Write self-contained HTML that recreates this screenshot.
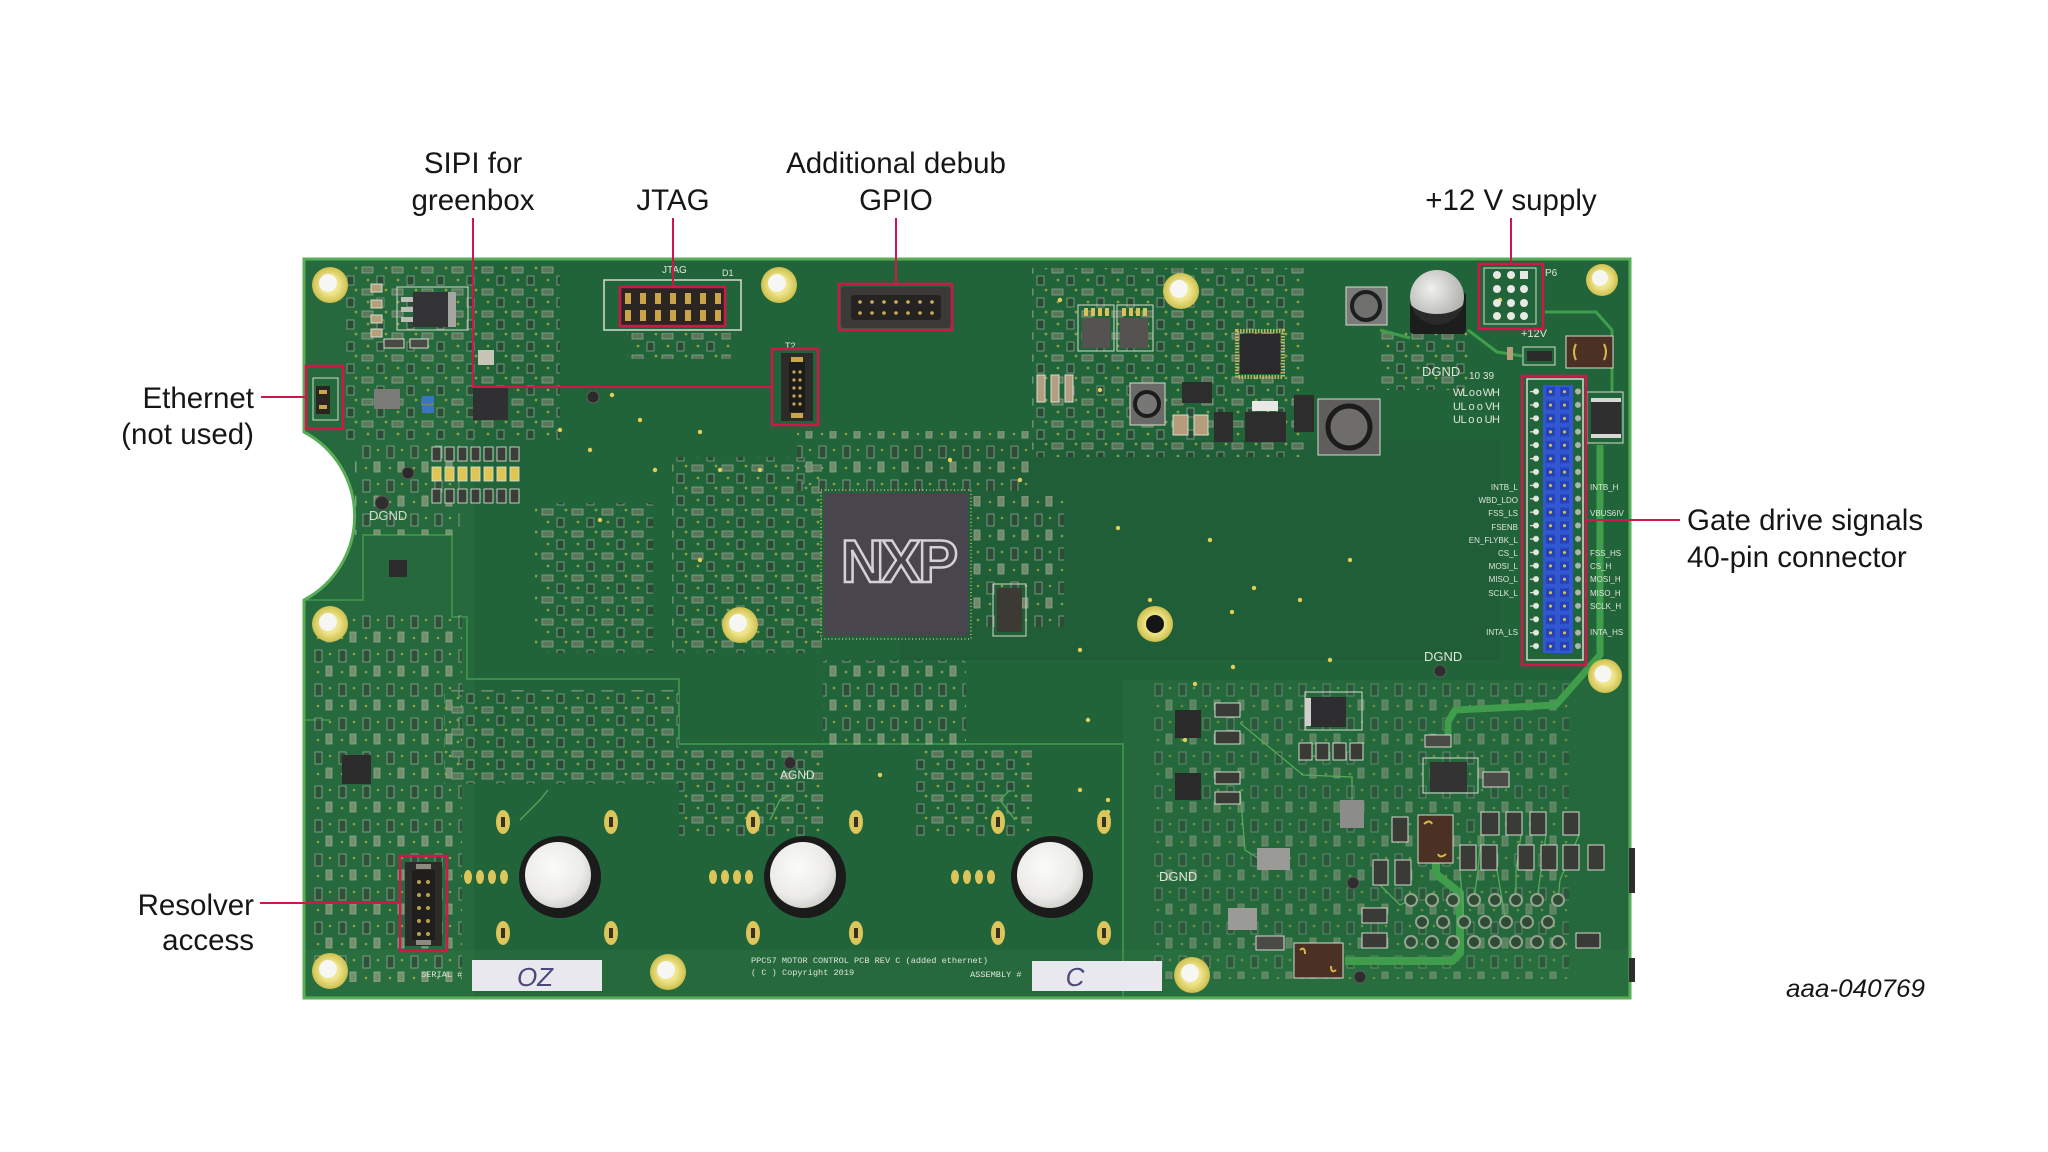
<!DOCTYPE html>
<html>
<head>
<meta charset="utf-8">
<style>
html,body{margin:0;padding:0;background:#ffffff;}
svg{display:block;}
</style>
</head>
<body>
<svg width="2048" height="1152" viewBox="0 0 2048 1152" xmlns="http://www.w3.org/2000/svg">
<defs>
  <pattern id="p1" width="30" height="22" patternUnits="userSpaceOnUse">
    <rect x="2" y="3" width="11" height="6" fill="#8d8576" stroke="#d9ded2" stroke-width="0.8"/>
    <rect x="17" y="12" width="7" height="9" fill="#303531" stroke="#d9ded2" stroke-width="0.8"/>
    <circle cx="26" cy="4" r="1.4" fill="#e3cd5c"/>
    <circle cx="8" cy="16" r="1.4" fill="#e3cd5c"/>
  </pattern>
  <pattern id="p2" width="24" height="34" patternUnits="userSpaceOnUse">
    <rect x="3" y="4" width="7" height="12" fill="#3a3d38" stroke="#dfe3d8" stroke-width="0.8"/>
    <rect x="14" y="20" width="6" height="10" fill="#b9ad92" stroke="#dfe3d8" stroke-width="0.8"/>
    <circle cx="18" cy="8" r="1.3" fill="#e3cd5c"/>
    <circle cx="6" cy="26" r="1.3" fill="#e3cd5c"/>
  </pattern>
  <pattern id="conn" x="1527" y="385" width="56" height="13.4" patternUnits="userSpaceOnUse">
    <rect x="16" y="0" width="30" height="13.4" fill="#3157d2"/>
    <circle cx="9" cy="6.5" r="3" fill="#e4e6e0"/>
    <rect x="3" y="6" width="6" height="1.2" fill="#e4e6e0"/>
    <rect x="19" y="2.2" width="9" height="9" fill="#2543b6"/>
    <circle cx="23.5" cy="6.7" r="1.5" fill="#e0c552"/>
    <rect x="33" y="2.2" width="9" height="9" fill="#2543b6"/>
    <circle cx="37.5" cy="6.7" r="1.5" fill="#e0c552"/>
    <circle cx="51" cy="6.5" r="3" fill="#aeb4ac"/>
  </pattern>
  <radialGradient id="gold" cx="0.5" cy="0.5" r="0.5">
    <stop offset="0.5" stop-color="#efe58c"/>
    <stop offset="1" stop-color="#cdbf4e"/>
  </radialGradient>
  <radialGradient id="wht" cx="0.42" cy="0.38" r="0.65">
    <stop offset="0" stop-color="#fbfbfa"/>
    <stop offset="0.7" stop-color="#ecebe8"/>
    <stop offset="1" stop-color="#cfcfcb"/>
  </radialGradient>
  <radialGradient id="silver" cx="0.4" cy="0.35" r="0.7">
    <stop offset="0" stop-color="#f0f0ee"/>
    <stop offset="1" stop-color="#a9a9a6"/>
  </radialGradient>
  <clipPath id="bc">
    <path d="M304,259 H1630 V998 H304 V600 A95,95 0 0 0 304,432 Z"/>
  </clipPath>
</defs>

<!-- BOARD -->
<path d="M304,259 H1630 V998 H304 V600 A95,95 0 0 0 304,432 Z" fill="#22643a"/>
<g clip-path="url(#bc)">
  <rect x="304" y="259" width="170" height="739" fill="#3f9150" opacity="0.12"/>
  <rect x="1123" y="680" width="507" height="318" fill="#3f9150" opacity="0.10"/>
  <rect x="304" y="950" width="1326" height="48" fill="#3f9150" opacity="0.12"/>
  <rect x="900" y="440" width="600" height="220" fill="#123d22" opacity="0.12"/>

  <polyline points="304,600 363,600 363,535 452,535 452,617 467,617 467,679 679,679 679,744 1123,744 1123,998" fill="none" stroke="#3b8d4a" stroke-width="2"/>
  <polyline points="304,720 330,720" fill="none" stroke="#3b8d4a" stroke-width="2"/>

  <g opacity="0.55">
    <rect x="345" y="265" width="215" height="175" fill="url(#p1)"/>
    <rect x="355" y="440" width="105" height="95" fill="url(#p2)"/>
    <rect x="312" y="612" width="150" height="370" fill="url(#p2)"/>
    <rect x="535" y="503" width="118" height="150" fill="url(#p1)"/>
    <rect x="672" y="457" width="150" height="196" fill="url(#p1)"/>
    <rect x="797" y="431" width="235" height="60" fill="url(#p2)"/>
    <rect x="973" y="496" width="91" height="131" fill="url(#p2)"/>
    <rect x="823" y="660" width="143" height="91" fill="url(#p2)"/>
    <rect x="444" y="690" width="235" height="94" fill="url(#p1)"/>
    <rect x="679" y="750" width="144" height="86" fill="url(#p1)"/>
    <rect x="914" y="750" width="118" height="86" fill="url(#p1)"/>
    <rect x="1032" y="268" width="274" height="189" fill="url(#p1)"/>
    <rect x="1149" y="679" width="420" height="300" fill="url(#p2)" opacity="0.7"/>
    <rect x="627" y="333" width="104" height="26" fill="url(#p1)"/>
    <rect x="1380" y="330" width="90" height="60" fill="url(#p1)"/>
  </g>

  <g fill="none" stroke="#3f9d4b" stroke-linejoin="round">
    <polyline stroke-width="7" points="1600,445 1600,655 1556,705 1455,710 1448,722 1448,738"/>
    <polyline stroke-width="8" points="1436,862 1436,874 1460,893 1460,953 1452,961 1345,961"/>
    <polyline stroke-width="3" points="1468,330 1497,352 1522,356"/>
    <polyline stroke-width="3" points="1545,312 1596,312 1612,330 1612,392"/>
    <polyline stroke-width="3" points="1380,330 1410,338"/>
  </g>
  <g fill="none" stroke="#5aa85a" stroke-width="1.3">
    <polyline points="1240,723 1303,775 1352,777 1352,800"/>
    <polyline points="1240,790 1245,850 1258,858"/>
    <polyline points="1380,885 1400,905 1411,900"/>
    <polyline points="1481,835 1478,870 1474,900"/>
    <polyline points="1521,835 1516,870 1516,900"/>
    <polyline points="1546,835 1541,870 1537,900"/>
    <polyline points="1579,835 1560,880 1558,900"/>
    <polyline points="1460,870 1464,922"/>
    <polyline points="1497,870 1506,922"/>
    <polyline points="520,820 540,800 548,790"/>
    <polyline points="770,820 780,800 790,795"/>
    <polyline points="1015,820 1000,800 1010,790"/>
  </g>
</g>
<path d="M304,259 H1630 V998 H304 V600 A95,95 0 0 0 304,432 Z" fill="none" stroke="#57ae57" stroke-width="3"/>

<rect x="1629" y="848" width="6" height="45" fill="#2e2e2e"/>
<rect x="1629" y="958" width="6" height="24" fill="#2e2e2e"/>

<g fill="#e4cd5a">
  <circle cx="612" cy="395" r="2.2"/><circle cx="640" cy="420" r="2.2"/><circle cx="700" cy="432" r="2.2"/>
  <circle cx="720" cy="470" r="2.2"/><circle cx="655" cy="470" r="2.2"/><circle cx="760" cy="470" r="2.2"/>
  <circle cx="600" cy="520" r="2.2"/><circle cx="1060" cy="300" r="2.2"/><circle cx="1100" cy="390" r="2.2"/>
  <circle cx="1232" cy="612" r="2.2"/><circle cx="1254" cy="588" r="2.2"/><circle cx="1185" cy="740" r="2.2"/>
  <circle cx="1150" cy="600" r="2.2"/><circle cx="1300" cy="600" r="2.2"/><circle cx="1330" cy="660" r="2.2"/>
  <circle cx="1020" cy="480" r="2.2"/><circle cx="950" cy="460" r="2.2"/><circle cx="1080" cy="650" r="2.2"/>
  <circle cx="1088" cy="720" r="2.2"/><circle cx="880" cy="775" r="2.2"/><circle cx="700" cy="560" r="2.2"/>
  <circle cx="1118" cy="528" r="2.2"/><circle cx="1210" cy="540" r="2.2"/><circle cx="1350" cy="560" r="2.2"/>
  <circle cx="1195" cy="684" r="2.2"/><circle cx="1233" cy="667" r="2.2"/><circle cx="1500" cy="300" r="2.2"/>
  <circle cx="560" cy="430" r="2.2"/><circle cx="590" cy="450" r="2.2"/><circle cx="1080" cy="790" r="2.2"/>
  <circle cx="1108" cy="800" r="2.2"/><circle cx="1108" cy="812" r="2.2"/>
</g>

<g>
  <circle cx="330" cy="285" r="18" fill="url(#gold)"/><circle cx="328" cy="283" r="9" fill="#f6f6f2"/>
  <circle cx="779" cy="285" r="18" fill="url(#gold)"/><circle cx="777" cy="283" r="9" fill="#f6f6f2"/>
  <circle cx="1181" cy="291" r="18" fill="url(#gold)"/><circle cx="1179" cy="289" r="9" fill="#f6f6f2"/>
  <circle cx="1602" cy="280" r="16" fill="url(#gold)"/><circle cx="1600" cy="278" r="8" fill="#f6f6f2"/>
  <circle cx="330" cy="624" r="18" fill="url(#gold)"/><circle cx="328" cy="622" r="9" fill="#f6f6f2"/>
  <circle cx="740" cy="625" r="18" fill="url(#gold)"/><circle cx="738" cy="623" r="9" fill="#f6f6f2"/>
  <circle cx="1605" cy="676" r="17" fill="url(#gold)"/><circle cx="1603" cy="674" r="8.5" fill="#f6f6f2"/>
  <circle cx="330" cy="971" r="18" fill="url(#gold)"/><circle cx="328" cy="969" r="9" fill="#f6f6f2"/>
  <circle cx="668" cy="972" r="18" fill="url(#gold)"/><circle cx="666" cy="970" r="9" fill="#f6f6f2"/>
  <circle cx="1192" cy="975" r="18" fill="url(#gold)"/><circle cx="1190" cy="973" r="9" fill="#f6f6f2"/>
  <circle cx="1155" cy="624" r="18" fill="url(#gold)"/><circle cx="1155" cy="624" r="9" fill="#151515"/>
</g>

<g stroke="#d5dccf" stroke-width="1">
  <rect x="397" y="287" width="71" height="43" fill="none"/>
  <rect x="371" y="284" width="11" height="8" fill="#b5a07a"/>
  <rect x="371" y="300" width="11" height="8" fill="#b5a07a"/>
  <rect x="371" y="315" width="11" height="8" fill="#b5a07a"/>
  <rect x="371" y="329" width="11" height="8" fill="#b5a07a"/>
  <rect x="384" y="339" width="20" height="9" fill="#4a4a44"/>
  <rect x="410" y="339" width="18" height="9" fill="#4a4a44"/>
  <rect x="313" y="378" width="25" height="42" fill="none"/>
</g>
<rect x="413" y="292" width="36" height="35" fill="#343436"/>
<rect x="448" y="292" width="8" height="35" fill="#a5a5a1"/>
<rect x="401" y="297" width="12" height="5" fill="#bdbdb8"/>
<rect x="401" y="307" width="12" height="5" fill="#bdbdb8"/>
<rect x="401" y="317" width="12" height="5" fill="#bdbdb8"/>
<rect x="374" y="389" width="26" height="20" fill="#7b7b78"/>
<rect x="422" y="396" width="12" height="7" fill="#3b74c0"/>
<rect x="422" y="406" width="12" height="7" fill="#3b74c0"/>
<rect x="473" y="388" width="35" height="32" fill="#303033"/>
<rect x="478" y="350" width="16" height="15" fill="#c9c4b8"/>
<circle cx="593" cy="397" r="6" fill="#2a2a2a" stroke="#5c5c58" stroke-width="1"/>
<circle cx="408" cy="473" r="6" fill="#2a2a2a" stroke="#5c5c58" stroke-width="1"/>
<circle cx="382" cy="503" r="7" fill="#2e2e2e" stroke="#5c5c58" stroke-width="1"/>
<rect x="316" y="386" width="14" height="28" fill="#2a2520"/>
<rect x="319" y="390" width="8" height="4" fill="#c9a84c"/>
<rect x="319" y="405" width="8" height="4" fill="#c9a84c"/>
<g stroke="#d5dccf" stroke-width="0.9">
  <rect x="432" y="447" width="9" height="14" fill="#3a3d38"/><rect x="445" y="447" width="9" height="14" fill="#3a3d38"/>
  <rect x="458" y="447" width="9" height="14" fill="#3a3d38"/><rect x="471" y="447" width="9" height="14" fill="#3a3d38"/>
  <rect x="484" y="447" width="9" height="14" fill="#3a3d38"/><rect x="497" y="447" width="9" height="14" fill="#3a3d38"/>
  <rect x="510" y="447" width="9" height="14" fill="#3a3d38"/>
  <rect x="432" y="467" width="9" height="14" fill="#e0c552"/><rect x="445" y="467" width="9" height="14" fill="#e0c552"/>
  <rect x="458" y="467" width="9" height="14" fill="#e0c552"/><rect x="471" y="467" width="9" height="14" fill="#e0c552"/>
  <rect x="484" y="467" width="9" height="14" fill="#e0c552"/><rect x="497" y="467" width="9" height="14" fill="#e0c552"/>
  <rect x="510" y="467" width="9" height="14" fill="#e0c552"/>
  <rect x="432" y="489" width="9" height="14" fill="#3a3d38"/><rect x="445" y="489" width="9" height="14" fill="#3a3d38"/>
  <rect x="458" y="489" width="9" height="14" fill="#3a3d38"/><rect x="471" y="489" width="9" height="14" fill="#3a3d38"/>
  <rect x="484" y="489" width="9" height="14" fill="#3a3d38"/><rect x="497" y="489" width="9" height="14" fill="#3a3d38"/>
  <rect x="510" y="489" width="9" height="14" fill="#3a3d38"/>
</g>
<text x="369" y="520" font-family="Liberation Sans, sans-serif" font-size="13" fill="#d6dccf">DGND</text>

<rect x="604" y="280" width="137" height="50" fill="none" stroke="#d5dccf" stroke-width="1.5"/>
<rect x="620" y="287" width="105" height="39" fill="#2b2622"/>
<g fill="#c9a548">
  <rect x="625" y="293" width="6" height="11"/><rect x="640" y="293" width="6" height="11"/><rect x="655" y="293" width="6" height="11"/>
  <rect x="670" y="293" width="6" height="11"/><rect x="685" y="293" width="6" height="11"/><rect x="700" y="293" width="6" height="11"/>
  <rect x="715" y="293" width="6" height="11"/>
  <rect x="625" y="310" width="6" height="11"/><rect x="640" y="310" width="6" height="11"/><rect x="655" y="310" width="6" height="11"/>
  <rect x="670" y="310" width="6" height="11"/><rect x="685" y="310" width="6" height="11"/><rect x="700" y="310" width="6" height="11"/>
  <rect x="715" y="310" width="6" height="11"/>
</g>
<text x="662" y="273" font-family="Liberation Sans, sans-serif" font-size="10" fill="#dfe5da">JTAG</text>
<text x="722" y="276" font-family="Liberation Sans, sans-serif" font-size="9" fill="#dfe5da">D1</text>

<rect x="841" y="287" width="110" height="41" rx="3" fill="#3c3a37"/>
<rect x="851" y="295" width="90" height="25" rx="3" fill="#252321"/>
<g fill="#d0b055">
  <circle cx="860" cy="302" r="1.8"/><circle cx="872" cy="302" r="1.8"/><circle cx="884" cy="302" r="1.8"/><circle cx="896" cy="302" r="1.8"/>
  <circle cx="908" cy="302" r="1.8"/><circle cx="920" cy="302" r="1.8"/><circle cx="932" cy="302" r="1.8"/>
  <circle cx="860" cy="313" r="1.8"/><circle cx="872" cy="313" r="1.8"/><circle cx="884" cy="313" r="1.8"/><circle cx="896" cy="313" r="1.8"/>
  <circle cx="908" cy="313" r="1.8"/><circle cx="920" cy="313" r="1.8"/><circle cx="932" cy="313" r="1.8"/>
</g>

<rect x="781" y="353" width="32" height="68" fill="#2c2b29"/>
<rect x="789" y="362" width="16" height="50" fill="#1b1b1a"/>
<rect x="791" y="357" width="12" height="5" fill="#c9a84c"/>
<rect x="791" y="413" width="12" height="5" fill="#c9a84c"/>
<g fill="#c9a84c">
  <circle cx="794" cy="372" r="1.6"/><circle cx="800" cy="372" r="1.6"/><circle cx="794" cy="380" r="1.6"/><circle cx="800" cy="380" r="1.6"/>
  <circle cx="794" cy="388" r="1.6"/><circle cx="800" cy="388" r="1.6"/><circle cx="794" cy="396" r="1.6"/><circle cx="800" cy="396" r="1.6"/>
  <circle cx="794" cy="404" r="1.6"/><circle cx="800" cy="404" r="1.6"/>
</g>

<rect x="821" y="490" width="150" height="149" fill="none" stroke="#a89e70" stroke-width="2" stroke-dasharray="1 2.5"/>
<rect x="824" y="493" width="144" height="143" fill="#49454d"/>
<text x="898" y="582" font-family="Liberation Sans, sans-serif" font-weight="bold" font-size="60" text-anchor="middle" letter-spacing="-3" fill="#49454d" stroke="#d4d2d6" stroke-width="2.5">NXP</text>
<rect x="993" y="584" width="33" height="52" fill="none" stroke="#d5dccf" stroke-width="1"/>
<rect x="997" y="588" width="25" height="44" rx="2" fill="#3d3a36"/>

<g stroke="#d5dccf" stroke-width="1">
  <rect x="1078" y="305" width="36" height="46" fill="none"/>
  <rect x="1117" y="305" width="36" height="46" fill="none"/>
  <rect x="1037" y="375" width="8" height="27" fill="#b39e82"/>
  <rect x="1051" y="375" width="8" height="27" fill="#b39e82"/>
  <rect x="1065" y="375" width="8" height="27" fill="#b39e82"/>
  <rect x="1173" y="415" width="15" height="20" fill="#b59c7a"/>
  <rect x="1194" y="415" width="14" height="20" fill="#b59c7a"/>
  <rect x="1484" y="268" width="52" height="56" fill="none"/>
  <rect x="1523" y="347" width="32" height="18" fill="none"/>
  <rect x="1566" y="336" width="47" height="32" fill="#4b3124"/>
  <rect x="1587" y="392" width="36" height="51" fill="none"/>
  <rect x="1318" y="399" width="62" height="56" fill="#5f5e5c"/>
  <rect x="1346" y="287" width="41" height="38" fill="#7a7a78"/>
  <rect x="1130" y="383" width="35" height="42" fill="#6a6a68"/>
</g>
<rect x="1082" y="318" width="28" height="30" fill="#55534f"/>
<rect x="1120" y="318" width="28" height="30" fill="#55534f"/>
<g fill="#d9c25a">
  <rect x="1084" y="308" width="4" height="8"/><rect x="1091" y="308" width="4" height="8"/><rect x="1098" y="308" width="4" height="8"/><rect x="1105" y="308" width="4" height="8"/>
  <rect x="1122" y="308" width="4" height="8"/><rect x="1129" y="308" width="4" height="8"/><rect x="1136" y="308" width="4" height="8"/><rect x="1143" y="308" width="4" height="8"/>
</g>
<rect x="1237" y="331" width="46" height="46" fill="none" stroke="#c9b160" stroke-width="4" stroke-dasharray="1.5 1.5"/>
<rect x="1240" y="334" width="40" height="40" fill="#2a2a2c"/>
<circle cx="1366" cy="306" r="14" fill="#6f6f6d" stroke="#1e1e1e" stroke-width="4"/>
<circle cx="1349" cy="427" r="21" fill="#6e6d6a" stroke="#1c1c1c" stroke-width="5"/>
<circle cx="1147" cy="404" r="12" fill="#777775" stroke="#1c1c1c" stroke-width="4"/>
<rect x="1182" y="382" width="30" height="21" fill="#2d2d2d"/>
<rect x="1214" y="412" width="19" height="30" fill="#2d2d2d"/>
<rect x="1245" y="412" width="41" height="30" fill="#2d2d2d"/>
<rect x="1252" y="401" width="26" height="10" fill="#e8e8e6"/>
<rect x="1294" y="395" width="20" height="37" fill="#2d2d2d"/>
<rect x="1410" y="292" width="56" height="42" rx="4" fill="#1d1d1d"/>
<circle cx="1437" cy="297" r="27" fill="url(#silver)"/>
<path d="M1411,305 A27,27 0 0 0 1463,305 A30,18 0 0 1 1411,305 Z" fill="#2a2a2a"/>
<g fill="#e8e8e4">
  <circle cx="1497" cy="275" r="4"/><circle cx="1511" cy="275" r="4"/><rect x="1520" y="271" width="8" height="8"/>
  <circle cx="1497" cy="289" r="4"/><circle cx="1511" cy="289" r="4"/><circle cx="1524" cy="289" r="4"/>
  <circle cx="1497" cy="303" r="4"/><circle cx="1511" cy="303" r="4"/><circle cx="1524" cy="303" r="4"/>
  <circle cx="1497" cy="316" r="4"/><circle cx="1511" cy="316" r="4"/><circle cx="1524" cy="316" r="4"/>
</g>
<rect x="1527" y="351" width="25" height="10" fill="#2b2b2b"/>
<rect x="1507" y="347" width="6" height="13" fill="#b59c7a"/>
<path d="M1576,344 q-4,8 0,16 M1604,344 q4,8 0,16" fill="none" stroke="#d9b84c" stroke-width="2"/>
<rect x="1591" y="398" width="30" height="40" fill="#2f2f2f"/>
<rect x="1591" y="398" width="30" height="4" fill="#d8d8d4"/>
<rect x="1591" y="434" width="30" height="4" fill="#d8d8d4"/>

<g font-family="Liberation Sans, sans-serif" fill="#dfe5da">
  <text x="1545" y="276" font-size="10">P6</text>
  <text x="1521" y="337" font-size="11">+12V</text>
  <text x="1422" y="376" font-size="13">DGND</text>
  <text x="1469" y="379" font-size="10">10  39</text>
  <text x="1453" y="396" font-size="11" textLength="47">WL o o WH</text>
  <text x="1453" y="410" font-size="11" textLength="47">UL o o VH</text>
  <text x="1453" y="423" font-size="11" textLength="47">UL o o UH</text>
  <text x="785" y="349" font-size="9">T2</text>
  <text x="1424" y="661" font-size="13">DGND</text>
  <text x="1159" y="881" font-size="13">DGND</text>
  <text x="780" y="779" font-size="12">AGND</text>
</g>
<circle cx="1440" cy="671" r="6" fill="#2e2e2e" stroke="#5c5c58"/>
<circle cx="790" cy="763" r="6" fill="#2e2e2e" stroke="#5c5c58"/>
<circle cx="1353" cy="883" r="6" fill="#2e2e2e" stroke="#5c5c58"/>
<circle cx="1360" cy="977" r="6" fill="#2e2e2e" stroke="#5c5c58"/>

<rect x="1527" y="379" width="56" height="281" fill="none" stroke="#d5dccf" stroke-width="1.5"/>
<rect x="1527" y="385" width="56" height="268" fill="url(#conn)"/>
<g font-family="Liberation Sans, sans-serif" font-size="8" fill="#dfe5da">
  <g text-anchor="end">
    <text x="1518" y="490">INTB_L</text>
    <text x="1518" y="503">WBD_LDO</text>
    <text x="1518" y="516">FSS_LS</text>
    <text x="1518" y="530">FSENB</text>
    <text x="1518" y="543">EN_FLYBK_L</text>
    <text x="1518" y="556">CS_L</text>
    <text x="1518" y="569">MOSI_L</text>
    <text x="1518" y="582">MISO_L</text>
    <text x="1518" y="596">SCLK_L</text>
    <text x="1518" y="635">INTA_LS</text>
  </g>
  <text x="1590" y="490">INTB_H</text>
  <text x="1590" y="516">VBUS6IV</text>
  <text x="1590" y="556">FSS_HS</text>
  <text x="1590" y="569">CS_H</text>
  <text x="1590" y="582">MOSI_H</text>
  <text x="1590" y="596">MISO_H</text>
  <text x="1590" y="609">SCLK_H</text>
  <text x="1590" y="635">INTA_HS</text>
</g>

<g stroke="#d5dccf" stroke-width="1">
  <rect x="1215" y="703" width="25" height="14" fill="#3a3a36"/>
  <rect x="1215" y="731" width="25" height="13" fill="#3a3a36"/>
  <rect x="1215" y="772" width="25" height="12" fill="#3a3a36"/>
  <rect x="1215" y="792" width="25" height="12" fill="#3a3a36"/>
  <rect x="1299" y="743" width="13" height="17" fill="#3a3a36"/>
  <rect x="1316" y="743" width="13" height="17" fill="#3a3a36"/>
  <rect x="1333" y="743" width="13" height="17" fill="#3a3a36"/>
  <rect x="1350" y="743" width="13" height="17" fill="#3a3a36"/>
  <rect x="1423" y="758" width="55" height="35" fill="none"/>
  <rect x="1425" y="735" width="26" height="12" fill="#4a4a46"/>
  <rect x="1483" y="772" width="26" height="15" fill="#4a4a46"/>
  <rect x="1418" y="815" width="35" height="48" fill="#4b3124"/>
  <rect x="1294" y="943" width="49" height="35" fill="#4b3124"/>
  <rect x="1481" y="812" width="18" height="23" fill="#3a3a36"/>
  <rect x="1506" y="812" width="16" height="23" fill="#3a3a36"/>
  <rect x="1530" y="812" width="16" height="23" fill="#3a3a36"/>
  <rect x="1563" y="812" width="16" height="23" fill="#3a3a36"/>
  <rect x="1460" y="845" width="16" height="25" fill="#3a3a36"/>
  <rect x="1481" y="845" width="16" height="25" fill="#3a3a36"/>
  <rect x="1518" y="845" width="16" height="25" fill="#3a3a36"/>
  <rect x="1541" y="845" width="16" height="25" fill="#3a3a36"/>
  <rect x="1563" y="845" width="16" height="25" fill="#3a3a36"/>
  <rect x="1588" y="845" width="16" height="25" fill="#3a3a36"/>
  <rect x="1373" y="860" width="15" height="25" fill="#3a3a36"/>
  <rect x="1395" y="860" width="16" height="25" fill="#3a3a36"/>
  <rect x="1392" y="817" width="16" height="25" fill="#3a3a36"/>
  <rect x="1362" y="908" width="25" height="15" fill="#3a3a36"/>
  <rect x="1362" y="933" width="25" height="15" fill="#3a3a36"/>
  <rect x="1576" y="933" width="24" height="15" fill="#3a3a36"/>
  <rect x="1256" y="936" width="28" height="14" fill="#4a4a46"/>
</g>
<rect x="1175" y="710" width="26" height="28" fill="#2a2a2a"/>
<rect x="1175" y="773" width="26" height="27" fill="#2a2a2a"/>
<rect x="1305" y="692" width="57" height="38" fill="none" stroke="#d5dccf" stroke-width="1"/>
<rect x="1310" y="697" width="36" height="30" fill="#2e2e30"/>
<rect x="1305" y="698" width="6" height="28" fill="#cfcfcc"/>
<rect x="1430" y="762" width="37" height="30" fill="#333333"/>
<rect x="1340" y="800" width="24" height="28" fill="#8c8c8a"/>
<rect x="1257" y="848" width="33" height="22" fill="#9a9a97"/>
<rect x="1228" y="908" width="29" height="22" fill="#9a9a97"/>
<path d="M1300,950 q5,-4 5,4 M1336,970 q-5,4 -5,-4" fill="none" stroke="#d9b84c" stroke-width="2"/>
<path d="M1424,824 q6,-5 8,0 M1446,854 q-6,5 -8,0" fill="none" stroke="#d9b84c" stroke-width="2"/>
<g fill="#2f4a35" stroke="#93a58f" stroke-width="2">
  <circle cx="1411" cy="900" r="6"/><circle cx="1432" cy="900" r="6"/><circle cx="1453" cy="900" r="6"/><circle cx="1474" cy="900" r="6"/>
  <circle cx="1495" cy="900" r="6"/><circle cx="1516" cy="900" r="6"/><circle cx="1537" cy="900" r="6"/><circle cx="1558" cy="900" r="6"/>
  <circle cx="1422" cy="922" r="6"/><circle cx="1443" cy="922" r="6"/><circle cx="1464" cy="922" r="6"/><circle cx="1485" cy="922" r="6"/>
  <circle cx="1506" cy="922" r="6"/><circle cx="1527" cy="922" r="6"/><circle cx="1548" cy="922" r="6"/>
  <circle cx="1411" cy="942" r="6"/><circle cx="1432" cy="942" r="6"/><circle cx="1453" cy="942" r="6"/><circle cx="1474" cy="942" r="6"/>
  <circle cx="1495" cy="942" r="6"/><circle cx="1516" cy="942" r="6"/><circle cx="1537" cy="942" r="6"/><circle cx="1558" cy="942" r="6"/>
</g>

<rect x="342" y="755" width="29" height="29" fill="#2c2c2c"/>
<rect x="389" y="560" width="18" height="17" fill="#2c2c2c"/>
<rect x="405" y="862" width="37" height="84" fill="#2d2b29"/>
<rect x="412" y="870" width="23" height="70" fill="#1f1e1d"/>
<rect x="416" y="864" width="15" height="5" fill="#8e8a80"/>
<rect x="416" y="940" width="15" height="5" fill="#8e8a80"/>
<g fill="#b9a050">
  <circle cx="419" cy="882" r="2"/><circle cx="428" cy="882" r="2"/><circle cx="419" cy="895" r="2"/><circle cx="428" cy="895" r="2"/>
  <circle cx="419" cy="908" r="2"/><circle cx="428" cy="908" r="2"/><circle cx="419" cy="921" r="2"/><circle cx="428" cy="921" r="2"/>
  <circle cx="419" cy="934" r="2"/><circle cx="428" cy="934" r="2"/>
</g>

<g>
  <circle cx="560" cy="877" r="41" fill="#1b1b1b"/>
  <circle cx="558" cy="875" r="33" fill="url(#wht)"/>
  <circle cx="805" cy="877" r="41" fill="#1b1b1b"/>
  <circle cx="803" cy="875" r="33" fill="url(#wht)"/>
  <circle cx="1052" cy="877" r="41" fill="#1b1b1b"/>
  <circle cx="1050" cy="875" r="33" fill="url(#wht)"/>
</g>
<g fill="#dcc55a">
  <ellipse cx="503" cy="822" rx="7" ry="12"/><ellipse cx="611" cy="822" rx="7" ry="12"/>
  <ellipse cx="503" cy="933" rx="7" ry="12"/><ellipse cx="611" cy="933" rx="7" ry="12"/>
  <ellipse cx="753" cy="822" rx="7" ry="12"/><ellipse cx="856" cy="822" rx="7" ry="12"/>
  <ellipse cx="753" cy="933" rx="7" ry="12"/><ellipse cx="856" cy="933" rx="7" ry="12"/>
  <ellipse cx="998" cy="822" rx="7" ry="12"/><ellipse cx="1104" cy="822" rx="7" ry="12"/>
  <ellipse cx="998" cy="933" rx="7" ry="12"/><ellipse cx="1104" cy="933" rx="7" ry="12"/>
  <ellipse cx="468" cy="877" rx="4" ry="7"/><ellipse cx="480" cy="877" rx="4" ry="7"/><ellipse cx="492" cy="877" rx="4" ry="7"/><ellipse cx="504" cy="877" rx="4" ry="7"/>
  <ellipse cx="713" cy="877" rx="4" ry="7"/><ellipse cx="725" cy="877" rx="4" ry="7"/><ellipse cx="737" cy="877" rx="4" ry="7"/><ellipse cx="749" cy="877" rx="4" ry="7"/>
  <ellipse cx="955" cy="877" rx="4" ry="7"/><ellipse cx="967" cy="877" rx="4" ry="7"/><ellipse cx="979" cy="877" rx="4" ry="7"/><ellipse cx="991" cy="877" rx="4" ry="7"/>
</g>
<g fill="#3a3020">
  <rect x="501" y="817" width="4" height="10"/><rect x="609" y="817" width="4" height="10"/>
  <rect x="501" y="928" width="4" height="10"/><rect x="609" y="928" width="4" height="10"/>
  <rect x="751" y="817" width="4" height="10"/><rect x="854" y="817" width="4" height="10"/>
  <rect x="751" y="928" width="4" height="10"/><rect x="854" y="928" width="4" height="10"/>
  <rect x="996" y="817" width="4" height="10"/><rect x="1102" y="817" width="4" height="10"/>
  <rect x="996" y="928" width="4" height="10"/><rect x="1102" y="928" width="4" height="10"/>
</g>

<rect x="472" y="960" width="130" height="31" fill="#e8e8ee"/>
<rect x="1032" y="961" width="130" height="30" fill="#e8e8ee"/>
<text x="535" y="986" font-family="Liberation Sans, sans-serif" font-style="italic" font-size="26" fill="#4a4a78" text-anchor="middle">OZ</text>
<text x="1075" y="986" font-family="Liberation Sans, sans-serif" font-style="italic" font-size="26" fill="#4a4a78" text-anchor="middle">C</text>
<g font-family="Liberation Mono, monospace" fill="#dfe5da" font-size="8.6">
  <text x="751" y="963" textLength="237">PPC57 MOTOR CONTROL PCB REV C (added ethernet)</text>
  <text x="751" y="975">( C ) Copyright 2019</text>
  <text x="421" y="977">SERIAL #</text>
  <text x="970" y="977">ASSEMBLY #</text>
</g>

<g stroke="#d0164a" stroke-width="2" fill="none">
  <polyline points="473,218 473,387 772,387"/>
  <line x1="673" y1="218" x2="673" y2="287"/>
  <line x1="896" y1="218" x2="896" y2="284"/>
  <line x1="1511" y1="218" x2="1511" y2="264"/>
  <line x1="261" y1="397" x2="306" y2="397"/>
  <line x1="260" y1="903" x2="400" y2="903"/>
  <line x1="1586" y1="520" x2="1680" y2="520"/>
</g>
<g stroke="#d0164a" stroke-width="2.5" fill="none">
  <rect x="306" y="366" width="37" height="63"/>
  <rect x="772" y="349" width="46" height="76"/>
  <rect x="620" y="287" width="105" height="39"/>
  <rect x="839" y="284" width="113" height="46"/>
  <rect x="1479" y="264" width="64" height="65"/>
  <rect x="1522" y="376" width="64" height="289"/>
  <rect x="400" y="856" width="47" height="95"/>
</g>

<g font-family="Liberation Sans, Arial, sans-serif" font-size="29.5" fill="#161616">
  <g text-anchor="middle">
    <text x="473" y="173">SIPI for</text>
    <text x="473" y="210">greenbox</text>
    <text x="673" y="210">JTAG</text>
    <text x="896" y="173">Additional debub</text>
    <text x="896" y="210">GPIO</text>
    <text x="1511" y="210">+12 V supply</text>
  </g>
  <g text-anchor="end">
    <text x="254" y="408">Ethernet</text>
    <text x="254" y="444">(not used)</text>
    <text x="254" y="915">Resolver</text>
    <text x="254" y="950">access</text>
  </g>
  <text x="1687" y="530">Gate drive signals</text>
  <text x="1687" y="567">40-pin connector</text>
</g>
<text x="1925" y="997" text-anchor="end" font-family="Liberation Sans, Arial, sans-serif" font-style="italic" font-size="25" textLength="139" lengthAdjust="spacingAndGlyphs" fill="#161616">aaa-040769</text>
</svg>
</body>
</html>
